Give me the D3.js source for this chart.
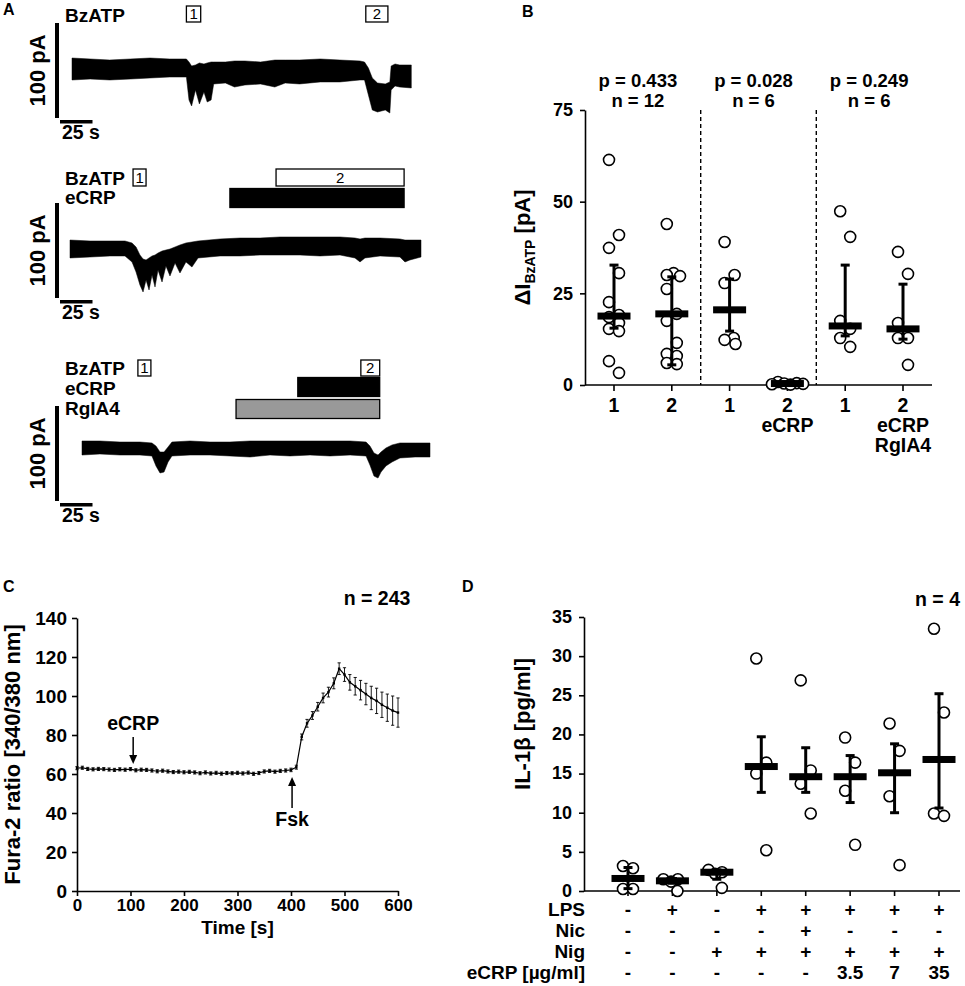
<!DOCTYPE html>
<html>
<head>
<meta charset="utf-8">
<script src="https://cdn.jsdelivr.net/npm/d3@7/dist/d3.min.js"></script>
<style>
  body { margin: 0; background: #fff; }
</style>
</head>
<body>
<svg id="fig" width="965" height="986"></svg>
<script>
const FONT = '"Liberation Sans", Arial, Helvetica, sans-serif';

// ---------- A: patch-clamp traces (upper / lower edge of the noisy current), time in s, current in pA
const t1  = [0, 14, 29, 45, 60, 75, 88, 90, 92, 95, 98, 101.5, 104, 107, 109, 118, 125, 133, 145, 156, 164, 175, 191, 206, 221.5, 225, 228, 231, 235, 241, 244.5, 245.5, 248.5, 252, 261];
const hi1 = [10.5, 9.5, 8.4, 9.5, 10.5, 9.5, 9.5, 6.3, 2.1, 3.2, 5.3, 4.2, 5.3, 6.3, 6.3, 6.3, 7.4, 7.4, 6.3, 8.4, 8.4, 8.4, 9.5, 8.4, 7.4, 6.3, 0, -10.5, -15.8, -16.8, -14.7, 2.1, 4.2, 3.2, 3.2];
const lo1 = [-12.6, -11.6, -12.6, -11.6, -10.5, -9.5, -9.5, -33.7, -40, -23.2, -37.9, -25.3, -35.8, -33.7, -16.8, -15.8, -20, -17.9, -16.8, -20, -15.8, -16.8, -14.7, -14.7, -12.6, -12.6, -28.4, -44.2, -46.3, -44.2, -47.4, -23.2, -18.9, -20, -21];

const t2  = [0, 15.4, 30.8, 42.3, 47.7, 50.8, 53.8, 56.2, 58.5, 60.8, 63.1, 65.4, 67.7, 70.8, 73.8, 76.9, 80.8, 84.6, 89.2, 93.8, 98.5, 115.4, 130.8, 146.2, 161.5, 176.9, 192.3, 207.7, 219.2, 223.1, 226.9, 238.5, 253.8, 257.7, 261.5, 270];
const hi2 = [8.4, 7.4, 7.4, 7.4, 5.3, 1.1, -7.4, -11.6, -12.6, -10.5, -8.4, -7.4, -5.3, -3.2, -2.1, -1.1, 1.1, 3.2, 5.3, 6.3, 7.4, 9.5, 10.5, 10.5, 11.6, 11.6, 11.6, 11.6, 10.5, 9.5, 10.5, 10.5, 9.5, 8.4, 8.4, 8.4];
const lo2 = [-10.5, -9.5, -8.4, -8.4, -14.7, -25.3, -38.9, -46.3, -33.7, -44.2, -28.4, -41.1, -23.2, -35.8, -18.9, -29.5, -15.8, -26.3, -14.7, -20, -10.5, -8.4, -8.4, -7.4, -7.4, -7.4, -8.4, -7.4, -10.5, -14.7, -10.5, -8.4, -9.5, -14.7, -12.6, -9.5];

const t3  = [0, 13.8, 29.2, 44.6, 53.8, 56.9, 60, 63.1, 66.2, 69.2, 83.1, 98.5, 113.8, 129.2, 144.6, 160, 175.4, 190.8, 206.2, 218.5, 221.5, 224.6, 227.7, 230, 233.8, 238.5, 244.6, 256.2, 267.7];
const hi3 = [7.4, 7.4, 6.3, 6.3, 5.3, 2.1, -4.2, -4.2, 1.1, 6.3, 7.4, 6.3, 6.3, 7.4, 7.4, 7.4, 7.4, 7.4, 7.4, 6.3, 2.1, -5.3, -7.4, -4.2, 0, 3.2, 5.3, 5.3, 5.3];
const lo3 = [-7.4, -6.3, -7.4, -7.4, -8.4, -18.9, -26.3, -25.3, -14.7, -8.4, -7.4, -7.4, -8.4, -9.5, -7.4, -8.4, -7.4, -8.4, -7.4, -8.4, -17.9, -29.5, -31.6, -25.3, -18.9, -14.7, -10.5, -9.5, -9.5];

// drug applications [start, end] in s
const bzatp1 = [[88, 99], [226, 243]];
const bzatp2 = [[48.5, 58.5], [158.5, 257]];
const ecrp2  = [123, 257];
const bzatp3 = [[43, 53], [214.5, 229]];
const ecrp3  = [166, 229];
const rgia3  = [118.5, 229];

// ---------- B
const bCats   = [["1"], ["2"], ["1"], ["2", "eCRP"], ["1"], ["2", "eCRP", "RgIA4"]];
const bPts = [
  [61.4, 40.9, 37.4, 30.5, 22.6, 19.1, 18.5, 16.9, 15.3, 14.7, 6.5, 3.3],
  [43.9, 30.0, 30.5, 29.7, 26.2, 19.4, 17.5, 11.5, 8.5, 7.9, 5.7, 6.0],
  [39.0, 30.0, 27.8, 12.3, 11.2, 12.8],
  [0.3, 0.8, 0.2, 0.5, 0.1, 0.4],
  [47.4, 40.4, 17.5, 12.8, 10.4, 15.3],
  [36.3, 30.3, 16.9, 12.8, 12.8, 5.5]
];
const bMid   = [18.8, 19.4, 20.5, 0.4, 16.1, 15.3];
const bUp    = [32.7, 29.5, 28.9, 0.8, 32.7, 27.5];
const bLow   = [15.5, 5.5, 14.7, 0.2, 13.4, 12.5];
const bP     = ["p = 0.433", "p = 0.028", "p = 0.249"];
const bN     = ["n = 12", "n = 6", "n = 6"];
const bTicks = [0, 25, 50, 75];

// ---------- C: Fura-2 ratio, mean +- SEM every 10 s
const cTime = [0, 10, 20, 30, 40, 50, 60, 70, 80, 90, 100, 110, 120, 130, 140, 150, 160, 170, 180, 190, 200,
  210, 220, 230, 240, 250, 260, 270, 280, 290, 300, 310, 320, 330, 340, 350, 360, 370, 380, 390, 400,
  410, 420, 430, 440, 450, 460, 470, 480, 490, 500, 510, 520, 530, 540, 550, 560, 570, 580, 590, 600];
const cMean = [63.0, 63.2, 62.6, 62.4, 62.6, 62.5, 62.3, 62.1, 62.4, 62.2, 62.5, 61.9, 62.2, 62.1, 61.8, 61.4, 61.7, 61.3, 61.0, 61.2, 60.9,
  61.1, 60.8, 60.4, 60.8, 60.3, 60.6, 60.2, 60.5, 60.4, 60.6, 60.3, 60.7, 60.1, 60.5, 61.3, 61.6, 61.2, 61.6, 61.8, 62.1,
  63.5, 79.0, 86.0, 90.0, 94.5, 99.0, 102.0, 106.5, 114.0, 111.0, 107.0, 105.0, 103.0, 101.0, 99.0, 97.5, 95.5, 94.0, 92.5, 91.5];
const cSem = [0.8, 0.8, 0.8, 0.8, 0.8, 0.8, 0.8, 0.8, 0.8, 0.8, 0.8, 0.8, 0.8, 0.8, 0.8, 0.8, 0.8, 0.8, 0.8, 0.8, 0.8,
  0.8, 0.8, 0.8, 0.8, 0.8, 0.8, 0.8, 0.8, 0.8, 0.8, 0.8, 0.8, 0.8, 0.8, 0.8, 0.8, 0.8, 0.8, 0.8, 0.9,
  1.0, 1.5, 2.0, 2.0, 2.2, 2.5, 2.5, 2.8, 3.0, 3.5, 4.0, 4.5, 5.0, 5.5, 6.0, 6.5, 6.5, 7.0, 7.5, 7.5];
const cTicksY = [0, 20, 40, 60, 80, 100, 120, 140];
const cTicksX = [0, 100, 200, 300, 400, 500, 600];
const cEvents = [["eCRP", 105], ["Fsk", 402]];

// ---------- D: IL-1beta release
const dPts = [
  [2.9, 3.2, 0.25, 0.25],
  [1.5, 1.5, 1.2, 0.0],
  [2.2, 2.4, 2.7, 0.4],
  [29.7, 16.4, 15.0, 5.2],
  [26.9, 15.4, 13.7, 9.9],
  [19.6, 16.4, 12.8, 5.9],
  [21.4, 17.9, 12.1, 3.3],
  [33.5, 22.8, 9.6, 9.9]
];
const dMid = [1.6, 1.3, 2.4, 15.9, 14.6, 14.6, 15.1, 16.8];
const dUp  = [3.0, 1.6, 2.7, 19.7, 18.3, 17.3, 18.8, 25.2];
const dLow = [0.3, 1.0, 1.5, 12.6, 12.6, 11.3, 10.0, 10.6];
const dRows = ["LPS", "Nic", "Nig", "eCRP [µg/ml]"];
const dLPS  = ["-", "+", "-", "+", "+", "+", "+", "+"];
const dNic  = ["-", "-", "-", "-", "+", "-", "-", "-"];
const dNig  = ["-", "-", "+", "+", "+", "+", "+", "+"];
const dCRP  = ["-", "-", "-", "-", "-", "3.5", "7", "35"];
const dTicks = [0, 5, 10, 15, 20, 25, 30, 35];

const svg = d3.select("#fig");

function txt(g, s, x, y, size, anchor = "start", weight = "bold") {
  return g.append("text").attr("x", x).attr("y", y)
    .attr("font-family", FONT).attr("font-size", size).attr("font-weight", weight)
    .attr("text-anchor", anchor).attr("fill", "#000").text(s);
}
function vtxt(g, s, x, y, size) {
  return g.append("text").attr("transform", `translate(${x},${y}) rotate(-90)`)
    .attr("font-family", FONT).attr("font-size", size).attr("font-weight", "bold")
    .attr("text-anchor", "middle").attr("fill", "#000").text(s);
}
function styleAxis(g, size) {
  g.selectAll("path, line").attr("stroke", "#000").attr("stroke-width", 1.6);
  g.selectAll("text").attr("font-family", FONT).attr("font-weight", "bold")
    .attr("font-size", size).attr("fill", "#000");
}
// spread overlapping dots sideways, y stays at the value
function swarm(vals, cx, y, r) {
  const order = d3.range(vals.length).sort((a, b) => d3.descending(vals[a], vals[b]));
  const nodes = order.map((k, j) => ({ v: vals[k], x: cx + (j % 2 ? 5 : -5), y: y(vals[k]), fy: y(vals[k]) }));
  const sim = d3.forceSimulation(nodes).force("c", d3.forceCollide(r)).stop();
  for (let i = 0; i < 150; i++) sim.tick();
  return nodes;
}
function dotPlot(g, groups, mid, up, low, x, y, collide) {
  groups.forEach((vals, i) => {
    const cx = x(i);
    g.selectAll(null).data(swarm(vals, cx, y, collide)).join("circle")
      .attr("cx", d => d.x).attr("cy", d => d.fy).attr("r", 5.5)
      .attr("fill", "#fff").attr("stroke", "#000").attr("stroke-width", 1.6);
    g.append("line").attr("x1", cx).attr("x2", cx).attr("y1", y(low[i])).attr("y2", y(up[i]))
      .attr("stroke", "#000").attr("stroke-width", 3);
    [up[i], low[i]].forEach(v => g.append("line").attr("x1", cx - 4.5).attr("x2", cx + 4.5)
      .attr("y1", y(v)).attr("y2", y(v)).attr("stroke", "#000").attr("stroke-width", 3));
    g.append("rect").attr("x", cx - 16.5).attr("y", y(mid[i]) - 3.5).attr("width", 33).attr("height", 7).attr("fill", "#000");
  });
}

// ================= A =================
const gA = svg.append("g");
txt(gA, "A", 3, 15, 16);
const traceRows = [
  { t: t1, hi: hi1, lo: lo1, x0: 72, base: 68,  barTop: 23 },
  { t: t2, hi: hi2, lo: lo2, x0: 70, base: 248, barTop: 203 },
  { t: t3, hi: hi3, lo: lo3, x0: 82, base: 448, barTop: 406 }
];
traceRows.forEach(r => {
  r.x = d3.scaleLinear().domain([0, 100]).range([r.x0, r.x0 + 130]);
  r.y = d3.scaleLinear().domain([0, 100]).range([r.base, r.base - 95]);
  const area = d3.area()
    .x((d, i) => r.x(r.t[i])).y0((d, i) => r.y(r.lo[i])).y1((d, i) => r.y(r.hi[i]));
  gA.append("path").datum(r.t).attr("d", area)
    .attr("fill", "#000").attr("stroke", "#000").attr("stroke-width", 0.5).attr("stroke-linejoin", "bevel");
  const barLen = r.y(0) - r.y(100);
  gA.append("rect").attr("x", 55).attr("y", r.barTop).attr("width", 4).attr("height", barLen);
  gA.append("rect").attr("x", 60).attr("y", r.barTop + barLen + 2).attr("width", r.x(25) - r.x(0)).attr("height", 3.5);
  vtxt(gA, "100 pA", 45, r.barTop + barLen / 2, 22);
  txt(gA, "25 s", 62, r.barTop + barLen + 21, 19.5);
});
function box(g, x0, x1, y0, h, fill, label) {
  g.append("rect").attr("x", x0).attr("y", y0).attr("width", x1 - x0).attr("height", h)
    .attr("fill", fill).attr("stroke", "#000").attr("stroke-width", 1.3);
  if (label) txt(g, label, (x0 + x1) / 2, y0 + h - 3, 15, "middle", "normal");
}
{
  const r = traceRows[0];
  txt(gA, "BzATP", 65, 22, 19);
  bzatp1.forEach((a, i) => box(gA, r.x(a[0]), r.x(a[1]), 6, 16, "#fff", String(i + 1)));
}
{
  const r = traceRows[1];
  txt(gA, "BzATP", 65, 185, 19);
  txt(gA, "eCRP", 65, 204, 19);
  bzatp2.forEach((a, i) => box(gA, r.x(a[0]), r.x(a[1]), 169, 17, "#fff", String(i + 1)));
  box(gA, r.x(ecrp2[0]), r.x(ecrp2[1]), 188.5, 19, "#000");
}
{
  const r = traceRows[2];
  txt(gA, "BzATP", 65, 375, 19);
  txt(gA, "eCRP", 65, 395, 19);
  txt(gA, "RgIA4", 65, 415, 19);
  bzatp3.forEach((a, i) => box(gA, r.x(a[0]), r.x(a[1]), 360, 16, "#fff", String(i + 1)));
  box(gA, r.x(ecrp3[0]), r.x(ecrp3[1]), 377.5, 19, "#000");
  box(gA, r.x(rgia3[0]), r.x(rgia3[1]), 399.5, 19, "#999");
}

// ================= B =================
const gB = svg.append("g");
txt(gB, "B", 522, 17, 16);
const bx = d3.scalePoint().domain(d3.range(bCats.length)).range([614, 903]);
const by = d3.scaleLinear().domain([0, 75]).range([385, 110]);
const bAxY = gB.append("g").attr("transform", "translate(585,0)")
  .call(d3.axisLeft(by).tickValues(bTicks).tickSize(5).tickSizeOuter(0).tickPadding(7));
styleAxis(bAxY, 18);
gB.append("line").attr("x1", 585).attr("x2", 932).attr("y1", 385).attr("y2", 385).attr("stroke", "#000").attr("stroke-width", 1.6);
bCats.forEach((lines, i) => {
  gB.append("line").attr("x1", bx(i)).attr("x2", bx(i)).attr("y1", 385).attr("y2", 391).attr("stroke", "#000").attr("stroke-width", 1.6);
  lines.forEach((s, j) => txt(gB, s, bx(i), 412 + 20 * j, 19.5, "middle"));
});
[1, 3].forEach(i => {
  const xm = (bx(i) + bx(i + 1)) / 2;
  gB.append("line").attr("x1", xm).attr("x2", xm).attr("y1", 110).attr("y2", 385)
    .attr("stroke", "#000").attr("stroke-width", 1.4).attr("stroke-dasharray", "4,3");
});
bP.forEach((s, k) => {
  const xm = (bx(2 * k) + bx(2 * k + 1)) / 2 - 5;
  txt(gB, s, xm, 87, 18.5, "middle");
  txt(gB, bN[k], xm, 107, 18.5, "middle");
});
dotPlot(gB, bPts, bMid, bUp, bLow, bx, by, 3.2);
{
  const t = gB.append("text").attr("transform", `translate(530,${(by(0) + by(75)) / 2}) rotate(-90)`)
    .attr("font-family", FONT).attr("font-size", 22).attr("font-weight", "bold").attr("text-anchor", "middle");
  t.append("tspan").text("ΔI");
  t.append("tspan").attr("font-size", 14).attr("dy", 5).text("BzATP");
  t.append("tspan").attr("dy", -5).text(" [pA]");
}

// ================= C =================
const gC = svg.append("g");
txt(gC, "C", 3, 592, 16);
const cx = d3.scaleLinear().domain([0, 600]).range([77, 398]);
const cy = d3.scaleLinear().domain([0, 140]).range([891, 618]);
const cAxY = gC.append("g").attr("transform", "translate(77,0)")
  .call(d3.axisLeft(cy).tickValues(cTicksY).tickSize(5).tickSizeOuter(0).tickPadding(5));
styleAxis(cAxY, 19);
const cAxX = gC.append("g").attr("transform", "translate(0,891)")
  .call(d3.axisBottom(cx).tickValues(cTicksX).tickSize(5).tickSizeOuter(0).tickPadding(3));
styleAxis(cAxX, 17);
txt(gC, "Time [s]", (cx(0) + cx(600)) / 2, 934, 19, "middle");
vtxt(gC, "Fura-2 ratio [340/380 nm]", 20, (cy(0) + cy(140)) / 2, 22);
txt(gC, "n = 243", 377, 605, 19.5, "middle");
const cData = cTime.map((t, i) => ({ t, m: cMean[i], e: cSem[i] }));
gC.selectAll(null).data(cData).join("path")
  .attr("d", d => `M${cx(d.t)},${cy(d.m - d.e)}V${cy(d.m + d.e)}M${cx(d.t) - 1.6},${cy(d.m + d.e)}h3.2M${cx(d.t) - 1.6},${cy(d.m - d.e)}h3.2`)
  .attr("stroke", "#000").attr("stroke-width", 0.9).attr("fill", "none");
gC.append("path").datum(cData)
  .attr("d", d3.line().x(d => cx(d.t)).y(d => cy(d.m)))
  .attr("fill", "none").attr("stroke", "#000").attr("stroke-width", 1.2);
gC.selectAll(null).data(cData).join("rect")
  .attr("x", d => cx(d.t) - 1.2).attr("y", d => cy(d.m) - 1.2).attr("width", 2.4).attr("height", 2.4).attr("fill", "#000");
{
  // eCRP arrow pointing down onto the trace, Fsk arrow pointing up from below
  const xe = cx(cEvents[0][1]);
  txt(gC, cEvents[0][0], xe, 730, 19.5, "middle");
  gC.append("line").attr("x1", xe).attr("x2", xe).attr("y1", 737).attr("y2", 757).attr("stroke", "#000").attr("stroke-width", 1.5);
  gC.append("path").attr("d", `M${xe - 4},${755}L${xe + 4},${755}L${xe},${764}Z`).attr("fill", "#000");
  const xf = cx(cEvents[1][1]);
  txt(gC, cEvents[1][0], xf, 826, 19.5, "middle");
  gC.append("line").attr("x1", xf).attr("x2", xf).attr("y1", 784).attr("y2", 808).attr("stroke", "#000").attr("stroke-width", 1.5);
  gC.append("path").attr("d", `M${xf - 4},${786}L${xf + 4},${786}L${xf},${777}Z`).attr("fill", "#000");
}

// ================= D =================
const gD = svg.append("g");
txt(gD, "D", 462, 592, 16);
const dx = d3.scalePoint().domain(d3.range(dPts.length)).range([628, 939]);
const dy = d3.scaleLinear().domain([0, 35]).range([891, 617]);
const dAxY = gD.append("g").attr("transform", "translate(584,0)")
  .call(d3.axisLeft(dy).tickValues(dTicks).tickSize(5).tickSizeOuter(0).tickPadding(7));
styleAxis(dAxY, 18);
dAxY.selectAll(".tick text").attr("dy", "0.3em");
gD.append("line").attr("x1", 584).attr("x2", 960).attr("y1", 891).attr("y2", 891).attr("stroke", "#000").attr("stroke-width", 1.6);
dPts.forEach((v, i) => gD.append("line").attr("x1", dx(i)).attr("x2", dx(i)).attr("y1", 891).attr("y2", 896)
  .attr("stroke", "#000").attr("stroke-width", 1.6));
dotPlot(gD, dPts, dMid, dUp, dLow, dx, dy, 3.6);
vtxt(gD, "IL-1β [pg/ml]", 530, 724, 22);
txt(gD, "n = 4", 960, 606, 19.5, "end");
[dLPS, dNic, dNig, dCRP].forEach((row, r) => {
  const yb = 916 + 21 * r;
  txt(gD, dRows[r], 585, yb, 19, "end");
  row.forEach((s, i) => txt(gD, s, dx(i), yb, 19, "middle"));
});
</script>
</body>
</html>
